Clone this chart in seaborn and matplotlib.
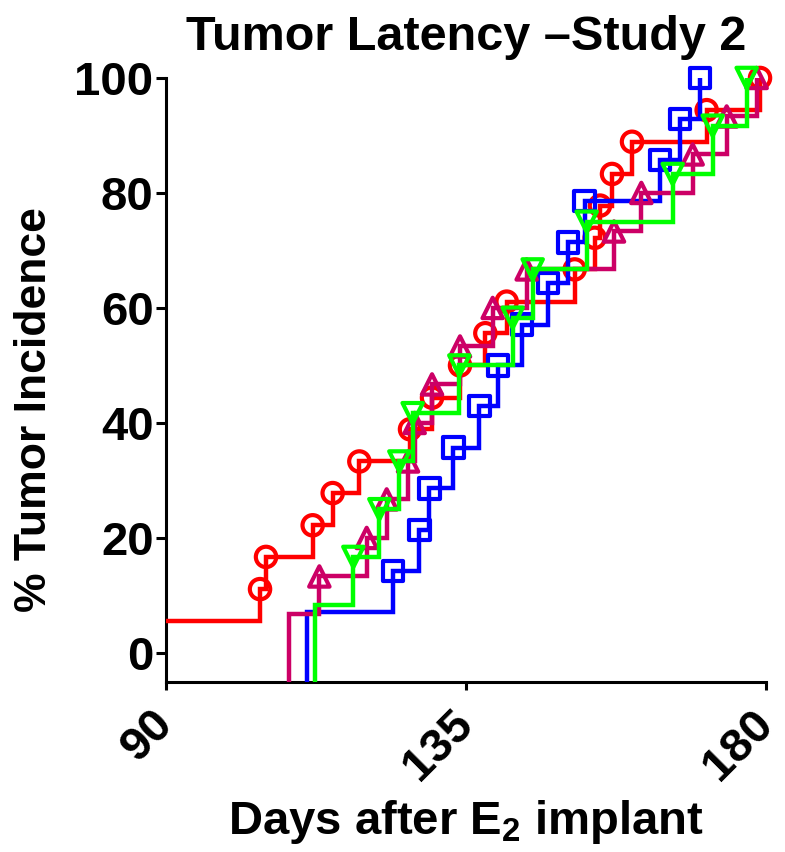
import matplotlib
matplotlib.use('Agg')
import matplotlib.pyplot as plt
import numpy as np
import pandas as pd
import seaborn as sns

# Event days and cumulative tumor incidence (%)
red_days = [86.0, 104.1, 105.0, 112.0, 115.0, 119.0, 126.6, 129.9, 134.1, 137.9, 141.1,
            151.3, 154.3, 155.1, 156.9, 159.9, 171.1, 179.1]
red_pct = [5.6, 11.1, 16.7, 22.2, 27.8, 33.3, 38.9, 44.4, 50.0, 55.6, 61.1,
           66.7, 72.2, 77.8, 83.3, 88.9, 94.4, 100.0]

blue_days = [111.1, 124.0, 128.0, 129.5, 133.1, 137.0, 139.8, 143.4, 147.3, 150.3, 152.8,
             164.1, 167.1, 170.1]
blue_pct = [7.1, 14.3, 21.4, 28.6, 35.7, 42.9, 50.0, 57.1, 64.3, 71.4, 78.6,
            85.7, 92.9, 100.0]

purple_days = [108.5, 113.0, 120.1, 123.1, 126.3, 127.3, 129.9, 134.1, 139.0, 144.1,
               157.2, 161.3, 169.0, 174.1, 178.6]
purple_pct = [6.7, 13.3, 20.0, 26.7, 33.3, 40.0, 46.7, 53.3, 60.0, 66.7,
              73.3, 80.0, 86.7, 93.3, 100.0]

green_days = [112.4, 118.1, 122.0, 125.0, 127.0, 134.0, 142.0, 145.0, 153.1, 166.0, 172.0, 177.1]
green_pct = [8.3, 16.7, 25.0, 33.3, 41.7, 50.0, 58.3, 66.7, 75.0, 83.3, 91.7, 100.0]

x_ticks = [90, 135, 180]
y_ticks = [0, 20, 40, 60, 80, 100]

series = [
    (red_days, red_pct, '#FF0000', 'o'),
    (blue_days, blue_pct, '#0000FF', 's'),
    (purple_days, purple_pct, '#CC0066', '^'),
    (green_days, green_pct, '#00FF00', 'v'),
]

sns.set_style('ticks')
plt.rcParams['font.family'] = ['Liberation Sans', 'DejaVu Sans']
plt.rcParams['font.weight'] = 'bold'
plt.rcParams['text.color'] = 'black'
plt.rcParams['axes.labelcolor'] = 'black'
plt.rcParams['mathtext.fontset'] = 'custom'
plt.rcParams['mathtext.bf'] = 'Liberation Sans:bold'
plt.rcParams['mathtext.rm'] = 'Liberation Sans:bold'
plt.rcParams['mathtext.default'] = 'bf'

fig = plt.figure(figsize=(7.85, 8.52), dpi=100)
ax = fig.add_axes([0.2115, 0.1999, 0.7643, 0.7086])
ax.set_xlim(90, 180)
ax.set_ylim(-5, 100)
base = ax.get_ylim()[0]

for i, (days, pct, color, marker) in enumerate(series):
    # step curve rising from the axis floor at the first event
    df = pd.DataFrame({'day': [days[0]] + days, 'pct': [base] + pct})
    sns.lineplot(data=df, x='day', y='pct', ax=ax, estimator=None, sort=False,
                 drawstyle='steps-post', color=color, linewidth=3.2,
                 solid_capstyle='projecting', solid_joinstyle='miter', zorder=3 + i)
    # open markers at every step after the first
    pts = pd.DataFrame({'day': days[1:], 'pct': pct[1:]})
    sns.scatterplot(data=pts, x='day', y='pct', ax=ax, marker=marker, s=215,
                    facecolor='none', edgecolor=color, linewidth=3.0,
                    clip_on=False, zorder=3 + i)

ax.set_xticks(x_ticks)
ax.set_yticks(y_ticks)
ax.tick_params(axis='both', width=2.2, labelsize=34, direction='out', colors='black')
ax.tick_params(axis='y', length=7, pad=2)
ax.tick_params(axis='x', length=6, pad=20)
for lab in ax.get_xticklabels():
    lab.set_rotation(45)
    lab.set_ha('right')
    lab.set_va('center')
    lab.set_rotation_mode('anchor')
    lab.set_fontweight('bold')
for lab in ax.get_yticklabels():
    lab.set_fontweight('bold')

sns.despine(ax=ax)
for side in ['left', 'bottom']:
    ax.spines[side].set_linewidth(2.2)
    ax.spines[side].set_color('black')

ax.set_xlabel(r'Days after E$_2$ implant', fontsize=34, fontweight='bold', labelpad=6)
ax.set_ylabel('% Tumor Incidence', fontsize=32, fontweight='bold')
ax.yaxis.set_label_coords(-0.185, 0.45)
ax.set_title('Tumor Latency \u2013Study 2', fontsize=35, fontweight='bold', pad=20)

fig.savefig('out.png', dpi=100)
